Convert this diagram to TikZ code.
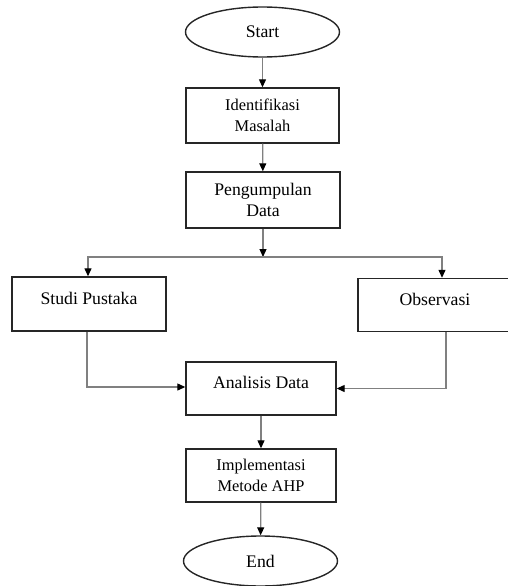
\documentclass[tikz,border=0pt]{standalone}
\usepackage{fontspec}
\setmainfont{Liberation Serif}
\usepackage{tikz}
\usetikzlibrary{arrows.meta, positioning, shapes.geometric}

\begin{document}
\begin{tikzpicture}[
    x=1pt, y=-1pt,
    terminal/.style={ellipse, draw=black!85, line width=1.4pt, minimum width=154pt, minimum height=50pt, inner sep=0pt, font=\fontsize{17.7}{21}\selectfont},
    process/.style={rectangle, draw=black!85, line width=1.4pt, minimum width=153pt, minimum height=55pt, inner sep=0pt, align=center, font=\fontsize{16.4}{20.5}\selectfont},
    single/.style={rectangle, draw=black!85, line width=1.4pt, minimum width=154pt, inner sep=0pt, text height=27pt, text depth=27pt, font=\fontsize{17.7}{21}\selectfont},
    line/.style={draw=black!50, line width=1.2pt, -{Triangle[length=8pt,width=7pt,color=black]}}
]
    \useasboundingbox (0,0) rectangle (508,586);

    % top column
    \node[terminal] (start) at (262.5,32) {Start};
    \node[process] (ident) at (262.5,115.5) {Identifikasi\\Masalah};
    \node[process, minimum width=154pt, minimum height=56pt, font=\fontsize{17.7}{21}\selectfont] (kumpul) at (263,200) {Pengumpulan\\Data};
    \coordinate (branch) at (263,257);

    % two branches
    \node[single] (studi) at (89,304) {Studi Pustaka};
    \node[single, text height=26.5pt, text depth=26.5pt] (obs) at (435,305) {Observasi};

    % bottom column
    \node[single, minimum width=150pt, text height=26.5pt, text depth=26.5pt] (analisis) at (261,388.5) {Analisis Data};
    \node[process, minimum width=150pt, minimum height=53pt] (impl) at (261,475.5) {Implementasi\\Metode AHP};
    \node[terminal] (end) at (260.5,561) {End};

    \draw[line] (start) -- (ident);
    \draw[line] (ident) -- (kumpul);
    \draw[line] (kumpul) -- (branch);
    \draw[line] (branch) -| ([xshift=-1pt]studi.north);
    \draw[line] (branch) -| ([xshift=7pt]obs.north);
    \draw[line] ([xshift=-2pt]studi.south) |- ([yshift=1.5pt]analisis.west);
    \draw[line] ([xshift=11pt]obs.south) |- (analisis.east);
    \draw[line] (analisis) -- (impl);
    \draw[line] (impl) -- (end);
\end{tikzpicture}
\end{document}
